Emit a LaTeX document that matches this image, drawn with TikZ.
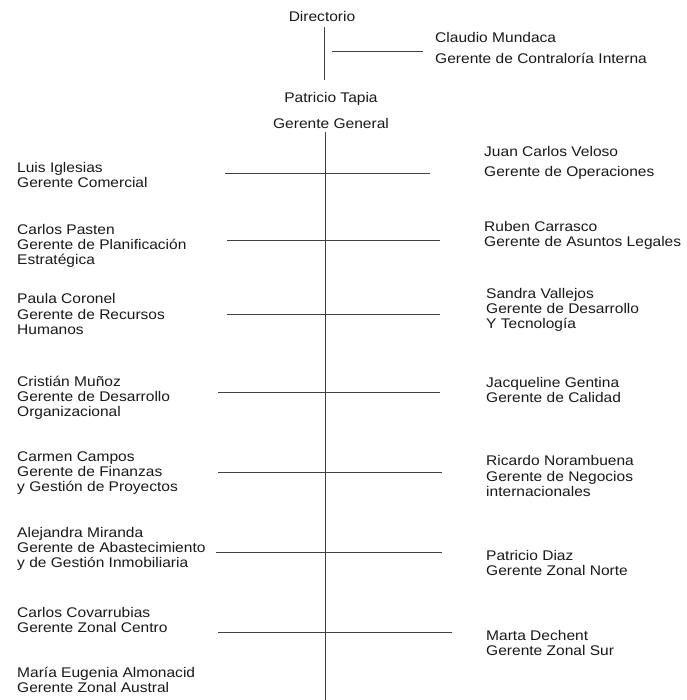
\documentclass[tikz,border=0pt]{standalone}
\usepackage{fontspec}
\setmainfont{Liberation Sans}[FakeStretch=1.11]
\begin{document}
\begin{tikzpicture}[x=1pt,y=-1pt,
  lbl/.style={font=\fontsize{14}{15.2}\selectfont, align=left, inner sep=0pt, text=black!90},
  ctr/.style={font=\fontsize{14}{15.2}\selectfont, inner sep=0pt, text=black!90},
  conn/.style={line width=0.7pt, black!75}]
\fill[white] (0,0) rectangle (686,700);
\useasboundingbox (0,0) rectangle (686,700);

% top
\node[ctr] (dir) at (322,17) {Directorio};
\node[lbl, anchor=west] (claudio) at (435,48) {Claudio Mundaca\\[6pt]Gerente de Contraloría Interna};
\node[ctr] (tapia) at (331,99) {Patricio Tapia};
\node[ctr] (gg) at (331,123) {Gerente General};

\coordinate (d1) at (324,27);
\coordinate (d2) at (324,80);
\coordinate (c1) at (332,51);
\coordinate (c2) at (423,51);
\coordinate (m1) at (325,132);
\coordinate (m2) at (325,700);
\draw[conn] (d1) -- (d2);
\draw[conn] (c1) -- (c2);
\draw[conn] (m1) -- (m2);

% left column
\node[lbl, anchor=west] (L1) at (17,175) {Luis Iglesias\\Gerente Comercial};
\node[lbl, anchor=west] (L2) at (17,246) {Carlos Pasten\\Gerente de Planificación\\Estratégica};
\node[lbl, anchor=west] (L3) at (17,314) {Paula Coronel\\Gerente de Recursos\\Humanos};
\node[lbl, anchor=west] (L4) at (17,398) {Cristián Muñoz\\Gerente de Desarrollo\\Organizacional};
\node[lbl, anchor=west] (L5) at (17,473) {Carmen Campos\\Gerente de Finanzas\\y Gestión de Proyectos};
\node[lbl, anchor=west] (L6) at (17,549) {Alejandra Miranda\\Gerente de Abastecimiento\\y de Gestión Inmobiliaria};
\node[lbl, anchor=west] (L7) at (17,620) {Carlos Covarrubias\\Gerente Zonal Centro};
\node[lbl, anchor=west] (L8) at (17,680) {María Eugenia Almonacid\\Gerente Zonal Austral};

% right column
\node[lbl, anchor=west] (R1) at (484,163) {Juan Carlos Veloso\\[5pt]Gerente de Operaciones};
\node[lbl, anchor=west] (R2) at (484,235) {Ruben Carrasco\\Gerente de Asuntos Legales};
\node[lbl, anchor=west] (R3) at (486,310) {Sandra Vallejos\\Gerente de Desarrollo\\Y Tecnología};
\node[lbl, anchor=west] (R4) at (486,390) {Jacqueline Gentina\\Gerente de Calidad};
\node[lbl, anchor=west] (R5) at (486,476) {Ricardo Norambuena\\Gerente de Negocios\\internacionales};
\node[lbl, anchor=west] (R6) at (486,563) {Patricio Diaz\\Gerente Zonal Norte};
\node[lbl, anchor=west] (R7) at (486,643) {Marta Dechent\\Gerente Zonal Sur};

% horizontal connectors
\coordinate (a1) at (225,173); \coordinate (b1) at (430,173);
\coordinate (a2) at (227,240); \coordinate (b2) at (440,240);
\coordinate (a3) at (227,314); \coordinate (b3) at (440,314);
\coordinate (a4) at (218,392); \coordinate (b4) at (440,392);
\coordinate (a5) at (218,472); \coordinate (b5) at (442,472);
\coordinate (a6) at (216,552); \coordinate (b6) at (442,552);
\coordinate (a7) at (218,632); \coordinate (b7) at (452,632);
\foreach \i in {1,...,7} {\draw[conn] (a\i) -- (b\i);}
\end{tikzpicture}
\end{document}
